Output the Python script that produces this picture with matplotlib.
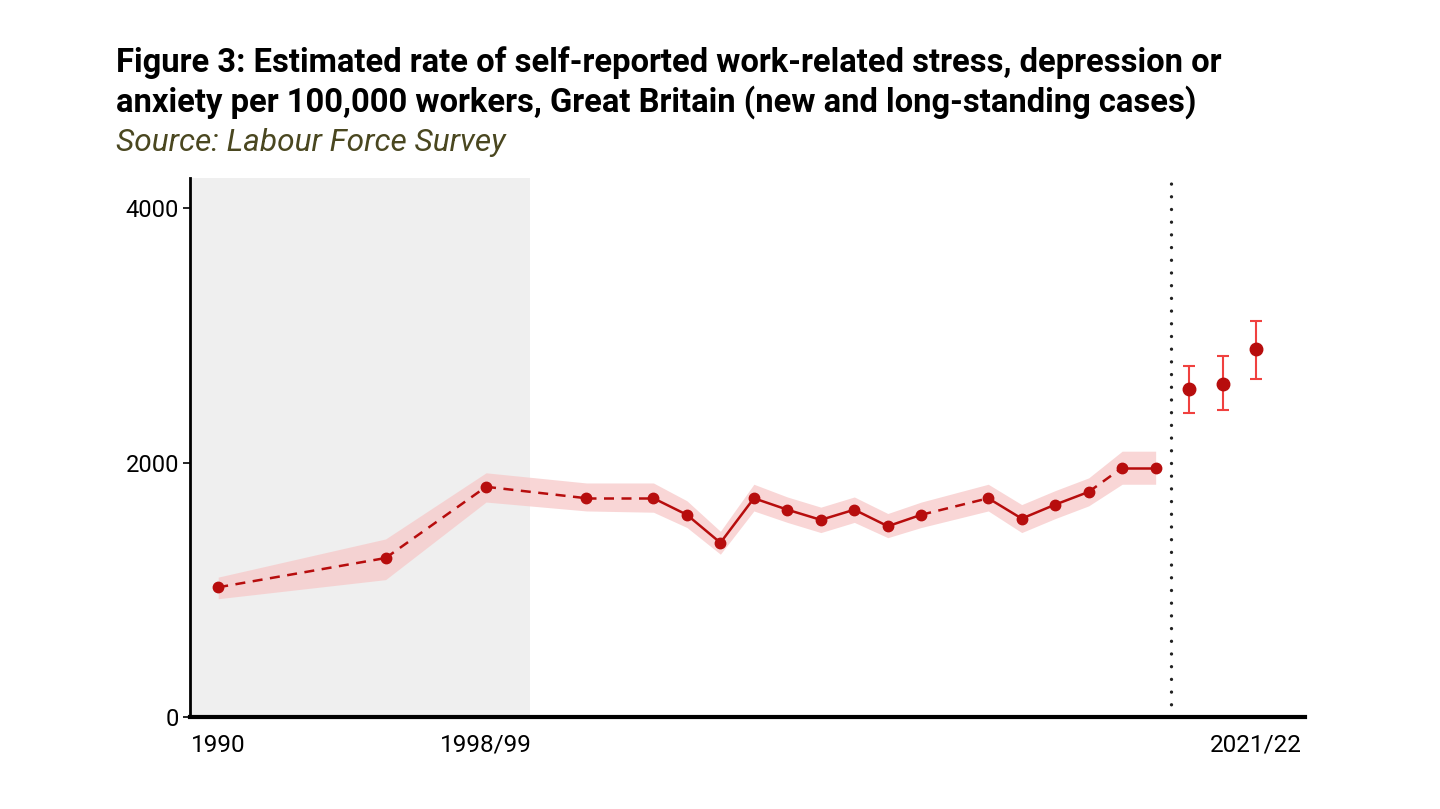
import numpy as np
import matplotlib
matplotlib.use("Agg")
import matplotlib.pyplot as plt

plt.rcParams['font.family'] = ['Roboto', 'DejaVu Sans']

# Annual series (new and long-standing cases per 100,000 workers)
years = [1990, 1995, 1998, 2001, 2003, 2004, 2005, 2006, 2007, 2008,
         2009, 2010, 2011, 2013, 2014, 2015, 2016, 2017, 2018]
rate = [1020, 1250, 1810, 1720, 1720, 1590, 1370, 1720, 1630, 1550,
        1630, 1500, 1590, 1720, 1560, 1670, 1770, 1960, 1960]
lower = [930, 1080, 1690, 1620, 1610, 1490, 1280, 1620, 1530, 1450,
         1530, 1410, 1490, 1620, 1450, 1560, 1660, 1830, 1830]
upper = [1100, 1400, 1920, 1840, 1840, 1700, 1460, 1830, 1730, 1650,
         1730, 1600, 1690, 1830, 1670, 1780, 1880, 2090, 2090]
# years where the survey changed (segment leading into them is dashed)
survey_change = [2017]

# Covid period estimates with confidence intervals
covid_years = [2019, 2020, 2021]
covid_rate = [2580, 2620, 2890]
covid_lower = [2390, 2410, 2660]
covid_upper = [2760, 2840, 3110]

tick_years = [1990, 1998, 2021]
tick_labels = ['1990', '1998/99', '2021/22']

line_col = '#b70d0d'
band_col = '#f7c9c9'
err_col = '#f0413f'

fig = plt.figure(figsize=(14.4, 8.09), dpi=100)
ax = fig.add_axes([0.132, 0.1137, 0.774, 0.666])

ax.axvspan(1989.16, 1999.3, color='#efefef', zorder=0, lw=0)
ax.fill_between(years, lower, upper, color=band_col, alpha=0.75, lw=0, zorder=1)

for i in range(len(years) - 1):
    x0, x1 = years[i], years[i + 1]
    dashed = (x1 - x0 > 1) or (x1 in survey_change)
    ax.plot([x0, x1], [rate[i], rate[i + 1]], color=line_col, lw=1.8,
            ls=(0, (4, 3)) if dashed else '-', zorder=2)
ax.plot(years, rate, 'o', color=line_col, ms=7.5, zorder=3)

ax.errorbar(covid_years, covid_rate,
            yerr=[np.array(covid_rate) - np.array(covid_lower),
                  np.array(covid_upper) - np.array(covid_rate)],
            fmt='none', ecolor=err_col, elinewidth=1.5, capsize=4.5, capthick=1.5, zorder=2)
ax.plot(covid_years, covid_rate, 'o', color=line_col, ms=9, zorder=3)

ax.axvline(2018.45, color='#222222', lw=2.4, ls=(0, (0.01, 3.8)),
           dash_capstyle='round', zorder=2)

ax.set_xlim(1989.16, 2022.45)
ax.set_ylim(0, 4236)
ax.set_yticks([0, 2000, 4000])
ax.set_xticks(tick_years)
ax.set_xticklabels(tick_labels)
ax.tick_params(axis='x', length=0, pad=12, labelsize=17.5)
ax.tick_params(axis='y', length=5, width=1.2, pad=3, labelsize=17)

for side in ['top', 'right']:
    ax.spines[side].set_visible(False)
ax.spines['left'].set_linewidth(2)
ax.spines['bottom'].set_linewidth(3)

fig.text(0.0805, 0.911, 'Figure 3: Estimated rate of self-reported work-related stress, depression or',
         fontsize=23.6, fontweight='bold', va='baseline')
fig.text(0.0805, 0.862, 'anxiety per 100,000 workers, Great Britain (new and long-standing cases)',
         fontsize=23.6, fontweight='bold', va='baseline')
fig.text(0.0805, 0.813, 'Source: Labour Force Survey', fontsize=22.8, style='italic',
         color='#4a4720', va='baseline')

fig.savefig('out.png', dpi=100)
